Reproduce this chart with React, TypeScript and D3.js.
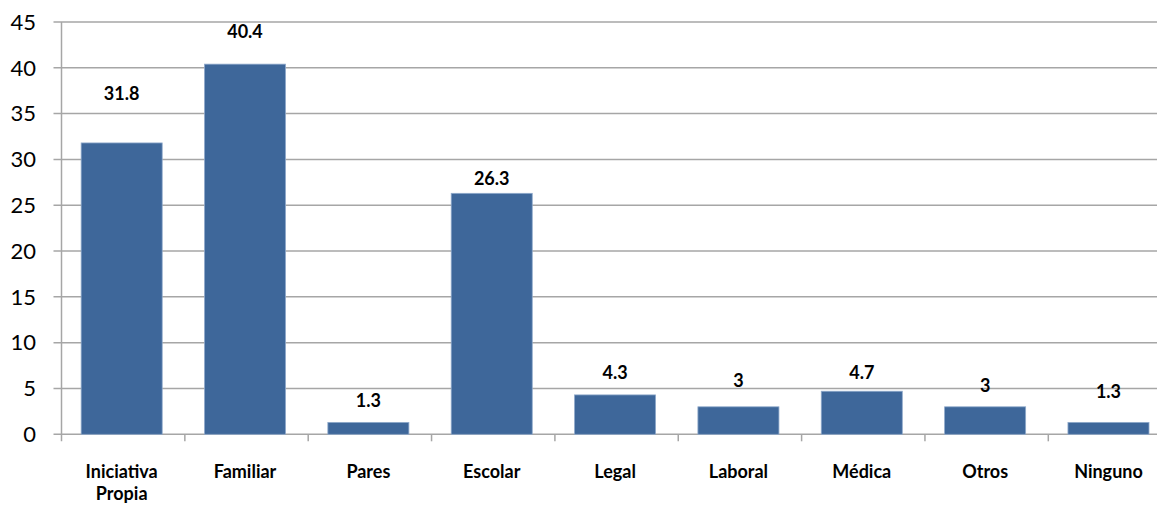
import React from "react";
import * as d3 from "d3";

const categories: string[][] = [
  ["Iniciativa", "Propia"],
  ["Familiar"],
  ["Pares"],
  ["Escolar"],
  ["Legal"],
  ["Laboral"],
  ["Médica"],
  ["Otros"],
  ["Ninguno"],
];
const values: number[] = [31.8, 40.4, 1.3, 26.3, 4.3, 3, 4.7, 3, 1.3];
const valueLabels: string[] = ["31.8", "40.4", "1.3", "26.3", "4.3", "3", "4.7", "3", "1.3"];
const yTicks: number[] = [0, 5, 10, 15, 20, 25, 30, 35, 40, 45];
// manual label placement offsets (layout), in px above bar top
const labelLift: number[] = [49, 32, 22, 15, 22, 26, 19, 21, 31];

const W = 1157;
const H = 506;
const left = 61.5;
const catW = 123.35;
const top = 22;
const bottom = 434.3;
const FONT = "Lato, 'Open Sans', sans-serif";

export default function App() {
  const keys = categories.map((c) => c.join(" "));
  const x = d3
    .scaleBand<string>()
    .domain(keys)
    .range([left, left + catW * keys.length])
    .paddingInner(0.343)
    .paddingOuter(0.1715);
  const y = d3.scaleLinear().domain([0, 45]).range([bottom, top]);
  const grid = "#A6A6A6";
  const boundaries = d3.range(keys.length + 1).map((i) => left + i * catW);

  return (
    <div style={{ position: "absolute", left: 0, top: 0 }}>
      <svg width={W} height={H} style={{ display: "block", background: "#fff" }}>
        {yTicks.map((t) => (
          <g key={t}>
            <line x1={left - 8} x2={left + catW * keys.length} y1={y(t)} y2={y(t)} stroke={grid} strokeWidth={1.5} />
            <text
              x={36}
              y={y(t)}
              dy="0.35em"
              textAnchor="end"
              fontFamily={FONT}
              fontSize={22}
              fill="#000"
            >
              {t}
            </text>
          </g>
        ))}
        <line x1={left} x2={left} y1={top} y2={bottom + 7} stroke={grid} strokeWidth={1.5} />
        {boundaries.slice(1).map((b, i) => (
          <line key={i} x1={b} x2={b} y1={bottom} y2={bottom + 7} stroke={grid} strokeWidth={1.5} />
        ))}
        {keys.map((k, i) => (
          <rect
            key={k}
            x={(x(k) as number) - 1.5}
            y={y(values[i])}
            width={x.bandwidth()}
            height={y(0) - y(values[i])}
            fill="#3E679A"
            stroke="#8FA9CB"
            strokeWidth={0.8}
          />
        ))}
        {keys.map((k, i) => (
          <text
            key={"v" + k}
            x={(x(k) as number) - 1.5 + x.bandwidth() / 2}
            y={y(values[i]) - labelLift[i]}
            dy="0.35em"
            textAnchor="middle"
            fontFamily={FONT}
            fontWeight="bold"
            fontSize={18}
            fill="#000"
          >
            {valueLabels[i]}
          </text>
        ))}
        {categories.map((lines, i) => (
          <text
            key={"c" + i}
            x={(x(keys[i]) as number) - 1.5 + x.bandwidth() / 2}
            y={472}
            textAnchor="middle"
            fontFamily={FONT}
            fontWeight="bold"
            fontSize={18}
            fill="#000"
          >
            {lines.map((l, j) => (
              <tspan key={j} x={(x(keys[i]) as number) - 1.5 + x.bandwidth() / 2} dy={j === 0 ? "0.35em" : 22}>
                {l}
              </tspan>
            ))}
          </text>
        ))}
      </svg>
    </div>
  );
}
